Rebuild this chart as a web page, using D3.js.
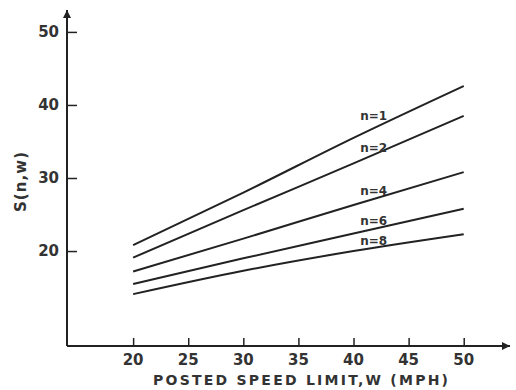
<!DOCTYPE html>
<html>
<head>
<meta charset="utf-8">
<script src="https://cdn.jsdelivr.net/npm/d3@7"></script>
<style>
  body { margin: 0; background: #fff; }
  text { font-family: "DejaVu Sans", sans-serif; fill: #333; font-weight: bold; }
</style>
</head>
<body>
<div id="chart"></div>
<script>
// speed limit (mph) where the curves were read
const speeds = [20, 30, 40, 50];
const seriesNames = ['n=1', 'n=2', 'n=4', 'n=6', 'n=8'];
const s1 = [20.8, 28.0, 35.5, 42.6];
const s2 = [19.1, 25.6, 32.0, 38.5];
const s4 = [17.2, 21.7, 26.3, 30.8];
const s6 = [15.5, 19.0, 22.4, 25.8];
const s8 = [14.1, 17.3, 20.0, 22.3];
const xTicks = [20, 25, 30, 35, 40, 45, 50];
const yTicks = [20, 30, 40, 50];
// where each curve label sits (w, S)
const labelW = 40.6;
const labelS = [37.9, 33.6, 27.7, 23.6, 20.8];

const width = 516, height = 390;
const ink = '#222';

const svg = d3.select('#chart')
  .append('svg')
  .attr('width', width)
  .attr('height', height);

const x = d3.scaleLinear().domain([14, 54.2]).range([67, 510]);
const y = d3.scaleLinear().domain([7, 53]).range([346, 10]);

// arrow heads
const defs = svg.append('defs');
defs.append('marker')
  .attr('id', 'arrow')
  .attr('viewBox', '0 0 10 10')
  .attr('refX', 10).attr('refY', 5)
  .attr('markerWidth', 12).attr('markerHeight', 8)
  .attr('markerUnits', 'userSpaceOnUse')
  .attr('orient', 'auto')
  .append('path')
  .attr('d', 'M0,0 L10,5 L0,10 Z')
  .attr('fill', ink);

// axes lines
svg.append('line')
  .attr('x1', x(14)).attr('y1', y(7))
  .attr('x2', x(54.2)).attr('y2', y(7))
  .attr('stroke', ink).attr('stroke-width', 2)
  .attr('marker-end', 'url(#arrow)');
svg.append('line')
  .attr('x1', x(14)).attr('y1', y(7))
  .attr('x2', x(14)).attr('y2', y(53))
  .attr('stroke', ink).attr('stroke-width', 2)
  .attr('marker-end', 'url(#arrow)');

// x axis ticks
const xAxis = svg.append('g')
  .attr('transform', `translate(0,${y(7)})`)
  .call(d3.axisTop(x).tickValues(xTicks).tickSize(8).tickFormat(''));
xAxis.select('.domain').remove();
xAxis.selectAll('line').attr('stroke', ink).attr('stroke-width', 1.5);

svg.append('g')
  .selectAll('text')
  .data(xTicks)
  .enter().append('text')
  .attr('x', d => x(d))
  .attr('y', 365)
  .attr('text-anchor', 'middle')
  .attr('font-size', 15)
  .text(d => d);

// y axis ticks
const yAxis = svg.append('g')
  .attr('transform', `translate(${x(14)},0)`)
  .call(d3.axisRight(y).tickValues(yTicks).tickSize(10).tickFormat(''));
yAxis.select('.domain').remove();
yAxis.selectAll('line').attr('stroke', ink).attr('stroke-width', 1.5);

svg.append('g')
  .selectAll('text')
  .data(yTicks)
  .enter().append('text')
  .attr('x', 59)
  .attr('y', d => y(d))
  .attr('dy', '0.36em')
  .attr('text-anchor', 'end')
  .attr('font-size', 15)
  .text(d => d);

// axis titles
svg.append('text')
  .attr('x', 153)
  .attr('y', 385)
  .attr('font-size', 14)
  .attr('textLength', 295)
  .attr('lengthAdjust', 'spacing')
  .text('POSTED SPEED LIMIT,W (MPH)');

svg.append('text')
  .attr('transform', 'translate(26,182) rotate(-90)')
  .attr('text-anchor', 'middle')
  .attr('font-size', 15)
  .attr('textLength', 60)
  .attr('lengthAdjust', 'spacing')
  .text('S(n,w)');

// curves
const series = [s1, s2, s4, s6, s8];
const line = d3.line()
  .x((d, i) => x(speeds[i]))
  .y(d => y(d))
  .curve(d3.curveMonotoneX);

svg.append('g')
  .selectAll('path')
  .data(series)
  .enter().append('path')
  .attr('d', d => line(d))
  .attr('fill', 'none')
  .attr('stroke', ink)
  .attr('stroke-width', 2);

svg.append('g')
  .selectAll('text')
  .data(seriesNames)
  .enter().append('text')
  .attr('x', x(labelW))
  .attr('y', (d, i) => y(labelS[i]))
  .attr('font-size', 12)
  .text(d => d);
</script>
</body>
</html>
